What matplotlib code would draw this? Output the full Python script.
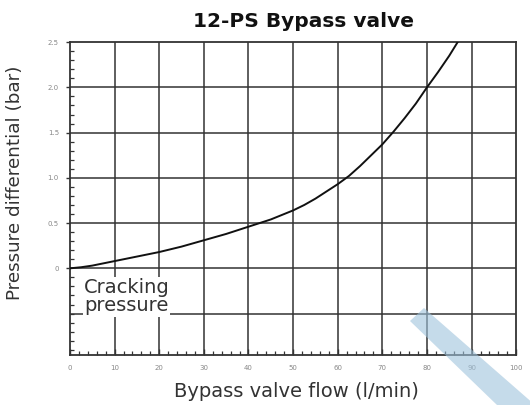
import numpy as np
import matplotlib
matplotlib.use("Agg")
import matplotlib.pyplot as plt
from matplotlib.patches import Polygon
from matplotlib.ticker import MultipleLocator

# curve
flow = [0, 2.5, 5, 7.5, 10, 15, 20, 25, 30, 35, 40, 45, 50, 52.5, 55, 57.5, 60,
        62.5, 65, 67.5, 70, 72.5, 75, 77.5, 80, 82.5, 85, 87.5]
dp = [0.0, 0.012, 0.03, 0.055, 0.08, 0.13, 0.18, 0.24, 0.31, 0.38, 0.46, 0.54, 0.64,
      0.70, 0.77, 0.85, 0.93, 1.02, 1.13, 1.25, 1.37, 1.51, 1.66, 1.82, 2.0, 2.17,
      2.35, 2.55]

xticks = [0, 10, 20, 30, 40, 50, 60, 70, 80, 90, 100]
yticks = [0, 0.5, 1.0, 1.5, 2.0, 2.5]
ytick_labels = ["0", "0.5", "1.0", "1.5", "2.0", "2.5"]

plt.rcParams["font.family"] = ["DejaVu Sans"]

fig = plt.figure(figsize=(5.3, 4.05), dpi=100)
ax = fig.add_axes([0.132, 0.123, 0.842, 0.773])

ax.set_xlim(0, 100)
ax.set_ylim(-0.96, 2.5)

gridc = "#333333"
for x in xticks[1:-1]:
    ax.axvline(x, color=gridc, lw=1.1, zorder=1)
for y in [-0.5] + yticks[:-1]:
    ax.axhline(y, color=gridc, lw=1.1, zorder=1)

ax.plot(flow, dp, color="#111111", lw=1.4, zorder=3)

box = dict(facecolor="white", edgecolor="none", pad=1.0)
ax.text(3.2, -0.275, "Cracking", fontsize=14, color="#333333",
        ha="left", va="baseline", zorder=5, bbox=box)
ax.text(3.2, -0.475, "pressure", fontsize=14, color="#333333",
        ha="left", va="baseline", zorder=4, bbox=box)

ax.set_xticks(xticks)
ax.set_xticklabels([str(v) for v in xticks], fontsize=5, color="#888888")
ax.set_yticks(yticks)
ax.set_yticklabels(ytick_labels, fontsize=5, color="#888888")
ax.xaxis.set_minor_locator(MultipleLocator(2))
ax.yaxis.set_minor_locator(MultipleLocator(0.1))
ax.tick_params(axis="x", which="major", direction="in", length=4, width=1, color=gridc, pad=7)
ax.tick_params(axis="x", which="minor", direction="in", length=3, width=0.9, color=gridc)
ax.tick_params(axis="y", which="major", direction="out", length=3, width=1, color=gridc, pad=5)
ax.tick_params(axis="y", which="minor", direction="in", length=3, width=0.9, color=gridc)
for s in ax.spines.values():
    s.set_color(gridc)
    s.set_linewidth(1.3)

ax.set_xlabel("Bypass valve flow (l/min)", fontsize=14, color="#333333", va="baseline")
ax.xaxis.set_label_coords(0.507, -0.134)
ax.set_ylabel("Pressure differential (bar)", fontsize=13.2, color="#333333")
ax.yaxis.set_label_coords(-0.104, 0.55)
fig.text(0.572, 0.948, "12-PS Bypass valve", fontsize=14.5, fontweight="bold",
         ha="center", va="center", color="#111111")

# light blue watermark stripe in the lower right corner
W, H = 530, 405
pts = [(410, 321), (424, 308), (535, 405), (497, 405)]
fig.patches.append(Polygon([(px / W, 1 - py / H) for px, py in pts], closed=True,
                           transform=fig.transFigure, facecolor="#9fc3dc",
                           edgecolor="none", alpha=0.6, zorder=10))

fig.savefig("out.png", dpi=100)
